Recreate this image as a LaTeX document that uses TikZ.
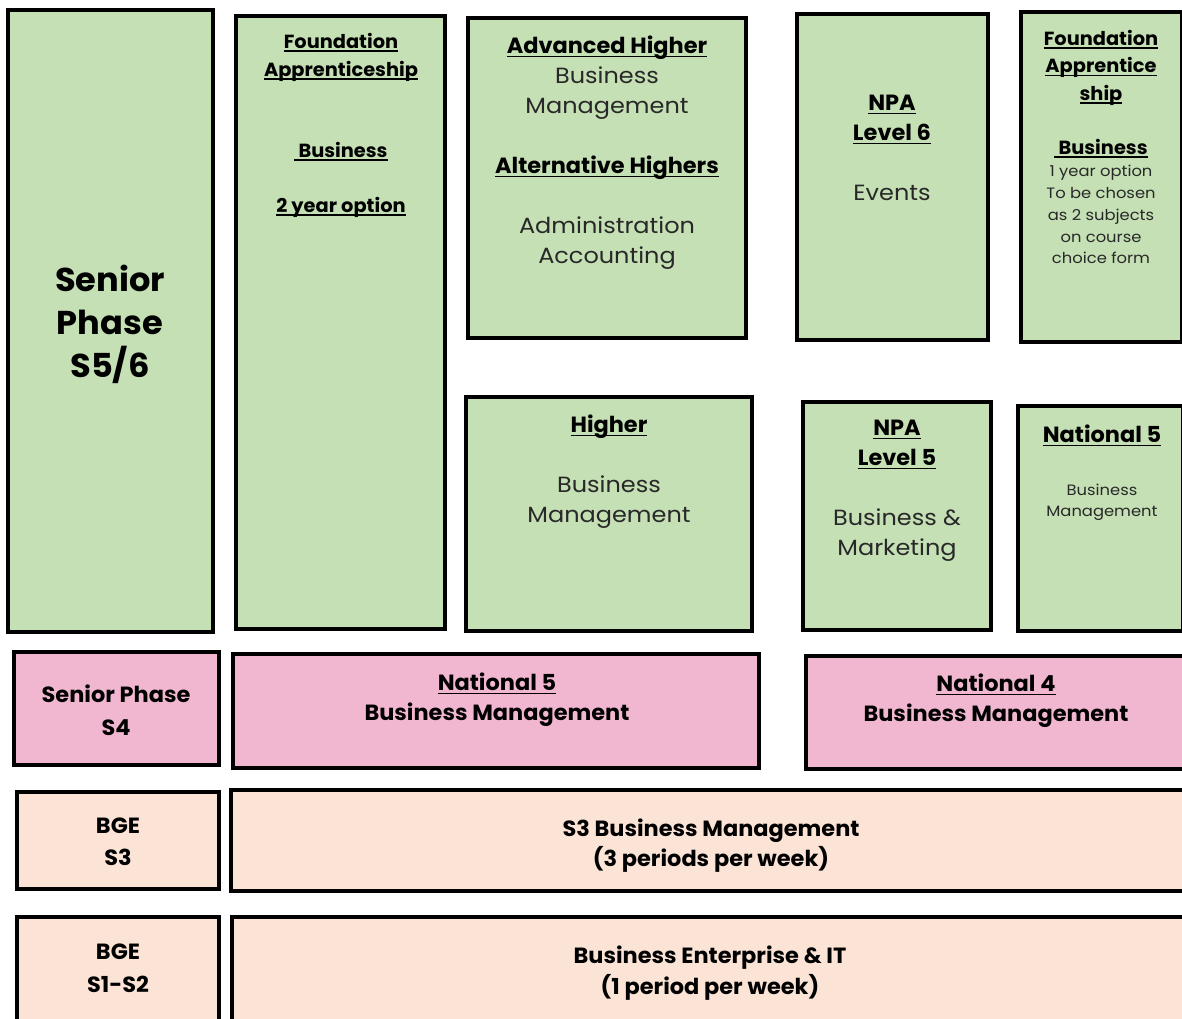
\documentclass[tikz,border=0pt]{standalone}
\usepackage{fontspec}
\setmainfont{Poppins}[FakeStretch=1.09, BoldFeatures={FakeStretch=1.02}]
\definecolor{gfill}{HTML}{C5E0B4}
\definecolor{pfill}{HTML}{F1B7D1}
\definecolor{efill}{HTML}{FBE4D6}
\definecolor{txt}{HTML}{282828}
\newcommand{\mkbox}[6]{\node[box, fill=#6, minimum width={(#4-#2)*1pt}, minimum height={(#5-#3)*1pt}] (#1) at (#2,#3) {};}
\newcommand{\fs}[2]{\fontsize{#1}{#2}\selectfont}
\newcommand{\ul}[1]{\setbox0\hbox{#1}\rlap{\color{black}\vrule width\wd0 height -0.085em depth 0.165em}\box0}
\begin{document}
\begin{tikzpicture}[x=1pt,y=-1pt,
  box/.style={draw=black, line width=4.6pt, inner sep=0pt, outer sep=0pt, anchor=north west},
  tx/.style={inner sep=0pt, anchor=north, align=center, text=txt},
  bx/.style={inner sep=0pt, anchor=north, align=center, text=black, font=\bfseries}]
\useasboundingbox (0,0) rectangle (1182,1018);
% green boxes
\mkbox{sp56}{8}{10}{213}{632}{gfill}
\mkbox{fa}{236}{16}{445}{629}{gfill}
\mkbox{ah}{468}{18}{746}{338}{gfill}
\mkbox{npa6}{797}{14}{988}{340}{gfill}
\mkbox{far}{1021}{12}{1182}{342}{gfill}
\mkbox{hi}{466}{397}{752}{631}{gfill}
\mkbox{npa5}{803}{402}{991}{630}{gfill}
\mkbox{n5r}{1018}{406}{1183}{631}{gfill}
% pink boxes
\mkbox{s4}{14}{652}{219}{765}{pfill}
\mkbox{n5p}{233}{654}{759}{768}{pfill}
\mkbox{n4p}{806}{656}{1186}{769}{pfill}
% peach boxes
\mkbox{bge3}{17}{792}{219}{889}{efill}
\mkbox{s3bm}{231}{790}{1186}{891}{efill}
\mkbox{bge12}{17}{917}{219}{1022}{efill}
\mkbox{beit}{232}{917}{1186}{1022}{efill}
% texts
\node[bx, font=\bfseries\fs{33}{43}] (tsp56) at (110,265) {Senior\\Phase\\S5/6};
\node[bx, font=\bfseries\fs{19}{28}] (tfa) at (341,33) {\ul{Foundation}\\\ul{Apprenticeship}\\[53pt]\ul{~Business}\\[27pt]\ul{2 year option}};
\node[tx, font=\fs{22}{30}] (tah) at (607,36) {\ul{\textbf{\color{black}Advanced Higher}}\\Business\\Management\\[30pt]\ul{\textbf{\color{black}Alternative Highers}}\\[30pt]Administration\\Accounting};
\node[tx, font=\fs{22}{30}] (tnpa6) at (892,95) {\ul{\textbf{\color{black}NPA}}\\\ul{\textbf{\color{black}Level 6}}\\[30pt]Events};
\node[bx, font=\bfseries\fs{19}{27.5}] (tfar) at (1101,30) {\ul{Foundation}\\\ul{Apprentice}\\\ul{ship}\\[26.5pt]\ul{~Business}};
\node[tx, font=\fs{15}{21.8}] (tfar2) at (1101,165) {1 year option\\To be chosen\\as 2 subjects\\on course\\choice form};
\node[tx, font=\fs{22}{30}] (thi) at (609,415) {\ul{\textbf{\color{black}Higher}}\\[30pt]Business\\Management};
\node[tx, font=\fs{22}{30}] (tnpa5) at (897,420) {\ul{\textbf{\color{black}NPA}}\\\ul{\textbf{\color{black}Level 5}}\\[30pt]Business \&\\Marketing};
\node[bx, font=\bfseries\fs{22}{30}] (tn5r) at (1102,425) {\ul{National 5}};
\node[tx, font=\fs{15}{21}] (tn5r2) at (1102,484) {Business\\Management};
\node[bx, font=\bfseries\fs{22}{33}] (ts4) at (116,685) {Senior Phase\\S4};
\node[bx, font=\bfseries\fs{22}{30}] (tn5p) at (497,673) {\ul{National 5}\\Business Management};
\node[bx, font=\bfseries\fs{22}{30}] (tn4p) at (996,674) {\ul{National 4}\\Business Management};
\node[bx, font=\bfseries\fs{22}{32}] (tbge3) at (118,818) {BGE\\S3};
\node[bx, font=\bfseries\fs{22}{30}] (ts3bm) at (711,819) {S3 Business Management\\(3 periods per week)};
\node[bx, font=\bfseries\fs{22}{33}] (tbge12) at (118,944) {BGE\\S1-S2};
\node[bx, font=\bfseries\fs{22}{31}] (tbeit) at (710,946) {Business Enterprise \& IT\\(1 period per week)};
\end{tikzpicture}
\end{document}
